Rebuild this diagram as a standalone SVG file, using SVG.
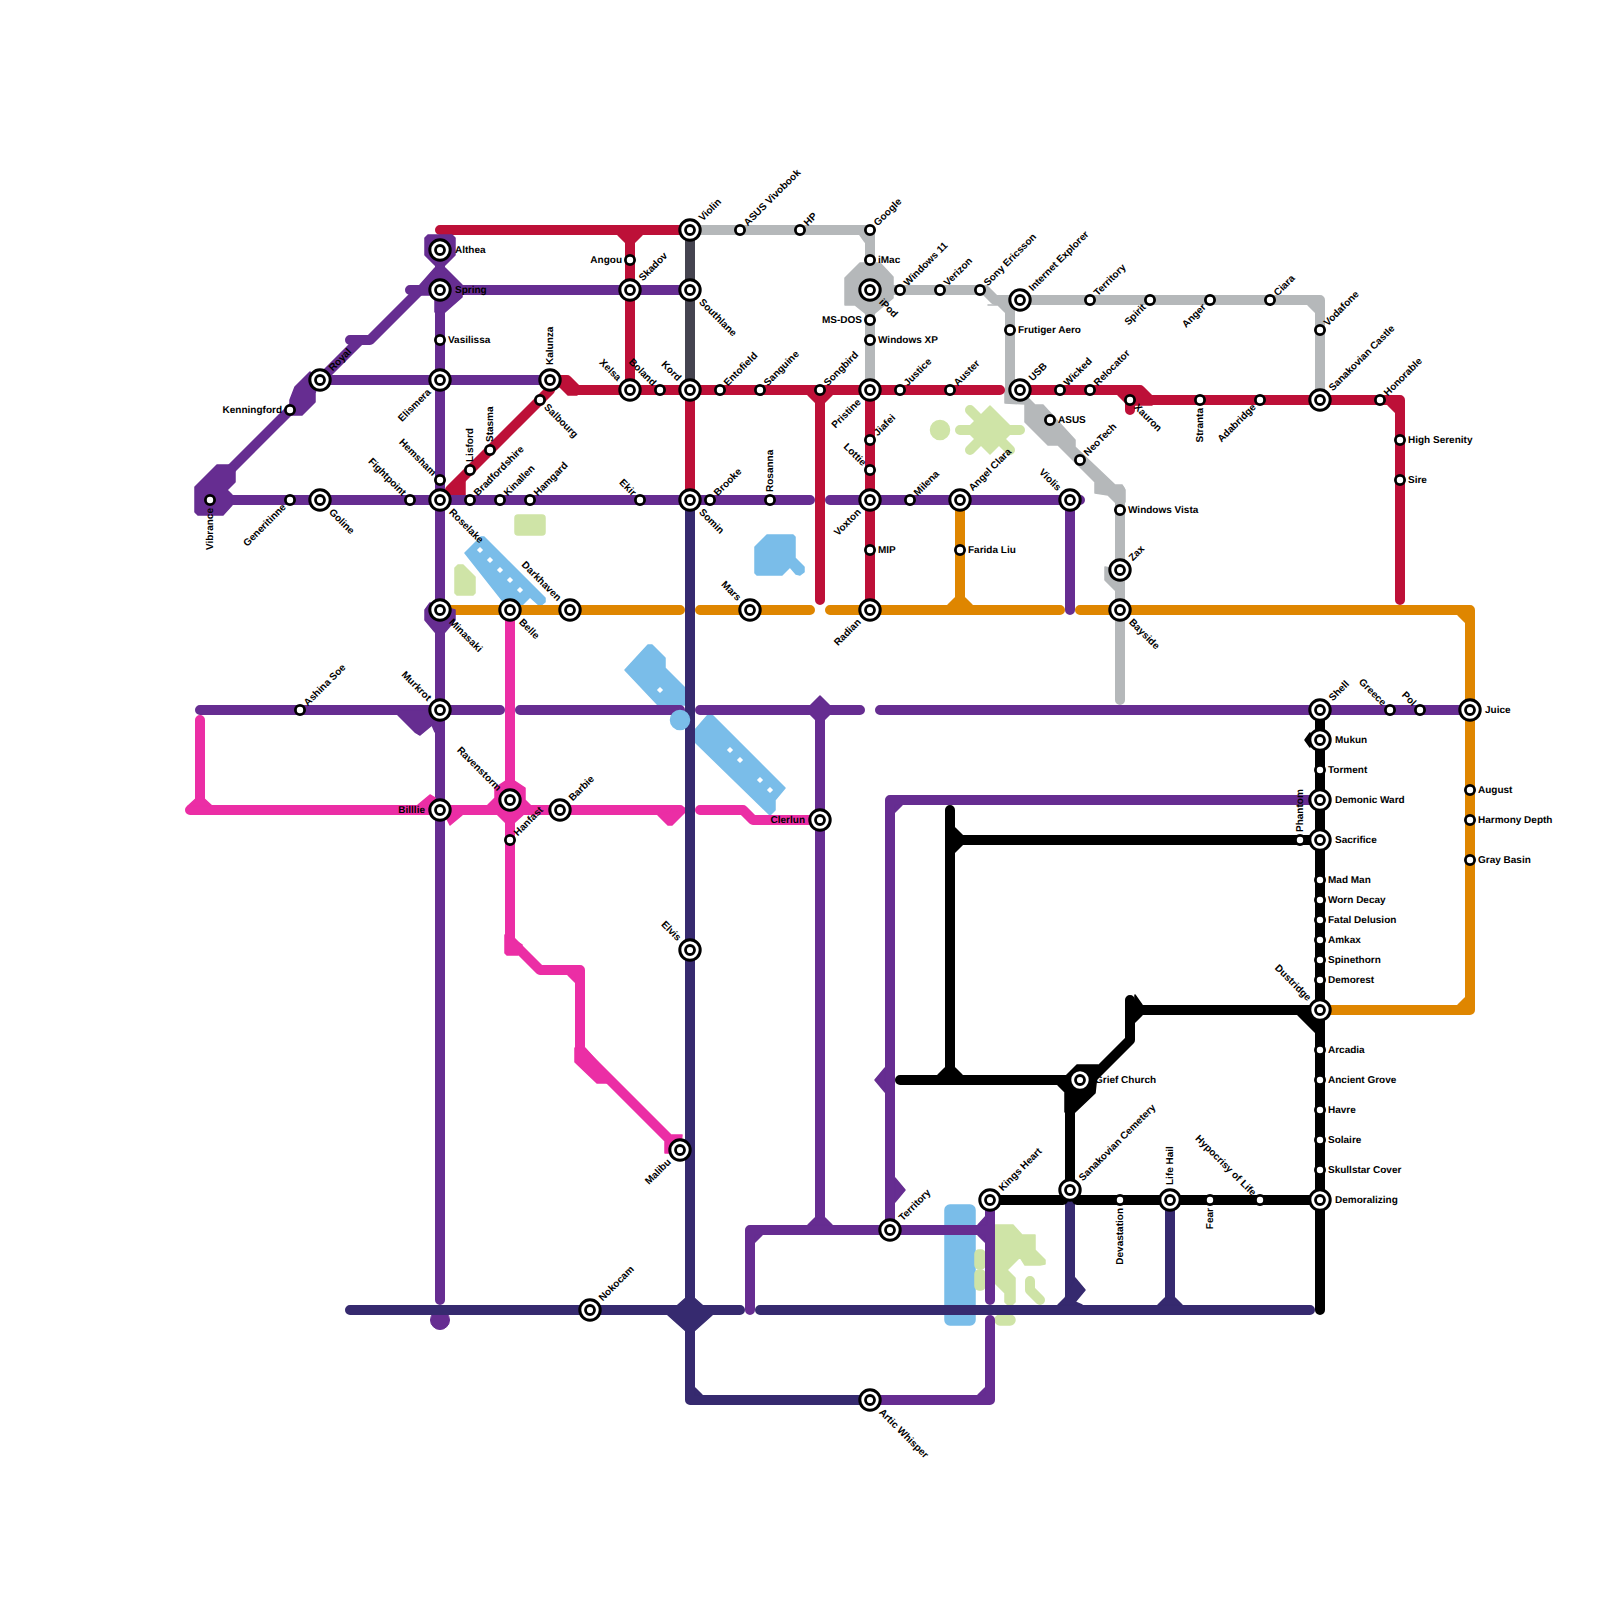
<svg xmlns="http://www.w3.org/2000/svg" width="1600" height="1600" viewBox="0 0 1600 1600">
<style>
.line path{fill:none;stroke-width:10;stroke-linecap:round;stroke-linejoin:round}
.line polygon{stroke-width:1.5;stroke-linejoin:round}
.purple{fill:#662d91;stroke:#662d91}.red{fill:#bd1038;stroke:#bd1038}.pink{fill:#eb2ea5;stroke:#eb2ea5}.navy{fill:#362a6f;stroke:#362a6f}.orange{fill:#df8600;stroke:#df8600}.gray{fill:#b5b8ba;stroke:#b5b8ba}.dark{fill:#454450;stroke:#454450}.black{fill:#000;stroke:#000}
.blue{fill:#7abde9;stroke:#7abde9;stroke-width:1.5;stroke-linejoin:round}
.green{fill:#cfe4a7;stroke:#cfe4a7;stroke-width:1.5;stroke-linejoin:round}
.gs{fill:none;stroke:#cfe4a7;stroke-width:10;stroke-linecap:round;stroke-linejoin:round}
.dot{fill:#fff}
text{font-family:"Liberation Sans",Arial,sans-serif;font-size:10px;font-weight:700;fill:#000;text-rendering:geometricPrecision}
.e{text-anchor:end}
.ring{fill:#fff;stroke:#000}
</style>
<defs>
<g id="big"><circle class="ring" r="10.2" stroke-width="3"/><circle class="ring" r="4.5" stroke-width="2.8"/></g>
<circle id="small" class="ring" r="4.6" stroke-width="2.8"/>
<rect id="d" class="dot" x="-2.2" y="-2.2" width="4.4" height="4.4" transform="rotate(45)"/>
</defs>
<g id="water">
<polygon class="blue" points="465,553 481,537 484,537 545,598 545,602 540,606 530,597 520,607 510,610"/>
<polygon class="blue" points="755,547 767,535 793,535 795,537 795,558 804,567 804,572 800,575 796,574 790,567 782,575 757,575 755,573"/>
<polygon class="blue" points="625,670 648,645 652,645 665,658 665,668 685,688 685,705 658,705"/>
<polygon class="blue" points="695,730 708,715 712,715 785,788 775,800 775,810 770,815 695,742"/>
<rect class="blue" x="945" y="1205" width="30" height="120" rx="5"/>
<use href="#d" x="480" y="550"/><use href="#d" x="490" y="560"/><use href="#d" x="500" y="570"/><use href="#d" x="510" y="580"/><use href="#d" x="520" y="590"/>
<use href="#d" x="660" y="690"/><use href="#d" x="730" y="750"/><use href="#d" x="740" y="760"/><use href="#d" x="760" y="780"/><use href="#d" x="770" y="790"/>
</g>
<g id="parks">
<rect class="green" x="515" y="515" width="30" height="20" rx="3"/>
<polygon class="green" points="455,568 458,565 463,565 475,577 475,593 473,595 457,595 455,593"/>
<circle class="green" cx="940" cy="430" r="9.5"/>
<polygon class="green" points="990,406 1014,430 990,454 966,430"/>
<path class="gs" d="M960,430H1020M970,410L990,430M970,450L990,430M1010,450L990,430"/>
<rect class="green" x="975" y="1250" width="10" height="19" rx="4"/>
<rect class="green" x="975" y="1270" width="10" height="20" rx="4"/>
<polygon class="green" points="995,1225 1013,1225 1022,1235 1035,1235 1035,1250 1045,1260 1045,1264 1040,1265 1025,1265 1020,1257 1007,1270 1015,1278 1015,1302 1012,1305 1008,1305 1005,1302 1005,1293 995,1283"/>
<path class="gs" d="M1030,1281V1290L1040,1300"/>
<rect class="green" x="995" y="1315" width="20" height="10" rx="5"/>
</g>
<g id="connectors">
<g class="line orange">
<path d="M440,610H680M700,610H810M830,610H1060M1080,610H1470V1010H1320M960,500V610"/>
<polygon points="948,605 972,605 965,598 955,598"/>
<polygon points="1458,615 1465,615 1465,622"/>
<polygon points="1458,1005 1465,1005 1465,998"/>
</g>
<g class="line gray">
<path d="M690,230H870V390M870,290H985L995,300H1320V400M1010,300V395M1120,490V700"/>
<polygon points="860,235 865,235 865,242"/>
<polygon points="845,278 860,263 880,263 893,277 893,298 875,313 865,313 855,305 845,305"/>
<polygon points="988,305 998,305 1005,312 1005,305"/>
<polygon points="1308,305 1315,305 1315,312"/>
<polygon points="1005,390 1005,403 1025,404 1025,422 1048,445 1058,445 1095,482 1095,493 1108,495 1115,502 1125,502 1125,490 1122,485 1115,485 1075,447 1075,440 1043,405 1035,405 1020,390"/>
<polygon points="1105,567 1105,580 1117,592 1120,570"/>
</g>
<path class="dark" style="fill:none;stroke-width:10" d="M690,230V390"/>
<g class="line red">
<path d="M440,230H690M630,230V390M550,380H567L577,390H1000M550,390L450,490M690,390V500M820,390V600M870,390V610"/>
<path d="M1020,390H1140L1150,400H1400V600M1120,390L1130,400V410"/>
<polygon points="447,495 465,495 465,480 447,490"/>
<polygon points="618,235 642,235 635,242 625,242"/>
<polygon points="808,395 832,395 825,402 815,402"/>
<polygon points="1118,395 1142,395 1152,405 1135,405 1130,412 1125,402"/>
<polygon points="1388,405 1395,405 1395,412"/>
<polygon points="553,385 560,387 568,395 577,395 577,385"/>
</g>
<g class="line purple">
<path d="M440,240V1300M440,290H690M550,380H320M440,500H210M440,500H810M830,500H1080M1070,500V610M200,710H500M520,710H680M700,710H860M880,710H1470"/>
<path d="M440,290H410M420,290L370,340H350M360,340L210,490"/>
<path d="M820,710V1220M890,1230V800H1320M750,1310V1230H990M990,1200V1300M990,1320V1400H870"/>
<circle cx="440" cy="1320" r="9.5"/>
<polygon points="425,238 428,235 452,235 455,238 455,255 445,265 435,265 425,255"/>
<polygon points="435,268 445,268 462,285 462,297 445,312 435,312 435,295 420,295 420,285"/>
<polygon points="195,487 217,465 235,465 235,482 227,490 232,495 232,505 223,515 198,515 195,512"/>
<polygon points="295,387 310,372 320,380 315,393 315,402 302,415 290,415 290,400"/>
<polygon points="425,610 430,603 455,610 455,620 445,632 435,632 425,620"/>
<polygon points="398,715 415,732 420,735 432,725 435,732 440,732 440,710 398,710"/>
<polygon points="820,696 834,710 820,724 806,710"/>
<polygon points="875,1080 885,1068 885,1092"/>
<polygon points="895,1178 905,1190 895,1202"/>
<polygon points="895,812 902,805 895,805"/>
<polygon points="755,1242 762,1235 755,1235"/>
<polygon points="808,1225 815,1218 825,1218 832,1225"/>
<polygon points="978,1225 987,1215 987,1225"/>
<polygon points="978,1235 985,1242 985,1235"/>
<polygon points="978,1395 985,1388 985,1395"/>
</g>
<g class="line pink">
<path d="M200,720V810M190,810H680M510,610V950M510,940L540,970H580V1050L680,1150M700,810H743L753,820H820"/>
<polygon points="188,806 200,795 212,806"/>
<polygon points="418,805 430,795 435,798 435,805"/>
<polygon points="445,815 450,825 462,815"/>
<polygon points="510,778 525,788 525,800 535,810 525,813 515,822 505,822 498,815 488,805 495,798 495,788"/>
<polygon points="658,815 668,825 672,825 685,812 685,808"/>
<polygon points="505,935 505,953 507,955 518,955 522,945"/>
<polygon points="568,975 575,975 575,982"/>
<polygon points="575,1048 575,1062 597,1083 610,1083 600,1065 585,1048"/>
<polygon points="665,1142 665,1153 680,1153 682,1135 672,1135"/>
</g>
<g class="line navy">
<path d="M690,500V1400H870M350,1310H740M760,1310H1310M1070,1200V1310M1170,1200V1310"/>
<polygon points="687,1297 693,1297 702,1305 712,1315 693,1332 687,1332 668,1315 678,1305"/>
<polygon points="695,1388 695,1395 702,1395"/>
<polygon points="1075,1278 1085,1290 1075,1302 1082,1305 1058,1305 1065,1298"/>
<polygon points="1158,1305 1165,1298 1175,1298 1182,1305"/>
</g>
<g class="line black">
<path d="M950,810V1080M950,840H1320M900,1080H1070V1190M1130,1000V1040L1090,1080M1130,1010H1320M1320,710V1310M990,1200H1063M1077,1200H1320"/>
<polygon points="955,828 967,840 955,852"/>
<polygon points="938,1075 945,1068 955,1068 962,1075"/>
<polygon points="1058,1085 1065,1092 1065,1112 1075,1112 1095,1093 1098,1065 1077,1065 1065,1077"/>
<polygon points="1135,995 1142,1005 1142,1015 1135,1022"/>
<polygon points="1298,1015 1320,1015 1320,1037 1315,1032"/>
<polygon points="1305,740 1310,733 1310,747"/>
</g>
</g>
<circle id="pond" class="blue" cx="680" cy="720" r="9.5"/>
<g id="stations">
<g id="vibrance"><use href="#small" x="210" y="500"/><text class="e" x="202" y="503" transform="rotate(-90 210 500)">Vibrance</text></g>
<g id="generitinne"><use href="#small" x="290" y="500"/><text class="e" x="282" y="503" transform="rotate(-45 290 500)">Generitinne</text></g>
<g id="goline"><use href="#big" x="320" y="500"/><text x="335" y="503" transform="rotate(45 320 500)">Goline</text></g>
<g id="fightpoint"><use href="#small" x="410" y="500"/><text class="e" x="402" y="503" transform="rotate(45 410 500)">Fightpoint</text></g>
<g id="roselake"><use href="#big" x="440" y="500"/><text x="455" y="503" transform="rotate(45 440 500)">Roselake</text></g>
<g id="hemsham"><use href="#small" x="440" y="480"/><text class="e" x="432" y="483" transform="rotate(45 440 480)">Hemsham</text></g>
<g id="lisford"><use href="#small" x="470" y="470"/><text x="478" y="473" transform="rotate(-90 470 470)">Lisford</text></g>
<g id="stasma"><use href="#small" x="490" y="450"/><text x="498" y="453" transform="rotate(-90 490 450)">Stasma</text></g>
<g id="salbourg"><use href="#small" x="540" y="400"/><text x="548" y="403" transform="rotate(45 540 400)">Salbourg</text></g>
<g id="kalunza"><use href="#big" x="550" y="380"/><text x="565" y="383" transform="rotate(-90 550 380)">Kalunza</text></g>
<g id="bradfordshire"><use href="#small" x="470" y="500"/><text x="478" y="503" transform="rotate(-45 470 500)">Bradfordshire</text></g>
<g id="kinallen"><use href="#small" x="500" y="500"/><text x="508" y="503" transform="rotate(-45 500 500)">Kinallen</text></g>
<g id="hamgard"><use href="#small" x="530" y="500"/><text x="538" y="503" transform="rotate(-45 530 500)">Hamgard</text></g>
<g id="ekir"><use href="#small" x="640" y="500"/><text class="e" x="632" y="503" transform="rotate(45 640 500)">Ekir</text></g>
<g id="somin"><use href="#big" x="690" y="500"/><text x="705" y="503" transform="rotate(45 690 500)">Somin</text></g>
<g id="brooke"><use href="#small" x="710" y="500"/><text x="718" y="503" transform="rotate(-45 710 500)">Brooke</text></g>
<g id="rosanna"><use href="#small" x="770" y="500"/><text x="778" y="503" transform="rotate(-90 770 500)">Rosanna</text></g>
<g id="voxton"><use href="#big" x="870" y="500"/><text class="e" x="855" y="503" transform="rotate(-45 870 500)">Voxton</text></g>
<g id="milena"><use href="#small" x="910" y="500"/><text x="918" y="503" transform="rotate(-45 910 500)">Milena</text></g>
<g id="angel-clara"><use href="#big" x="960" y="500"/><text x="975" y="503" transform="rotate(-45 960 500)">Angel Clara</text></g>
<g id="violis"><use href="#big" x="1070" y="500"/><text class="e" x="1055" y="503" transform="rotate(45 1070 500)">Violis</text></g>
<g id="elismera"><use href="#big" x="440" y="380"/><text class="e" x="425" y="383" transform="rotate(-45 440 380)">Elismera</text></g>
<g id="royal"><use href="#big" x="320" y="380"/><text x="335" y="383" transform="rotate(-45 320 380)">Royal</text></g>
<g id="kenningford"><use href="#small" x="290" y="410"/><text class="e" x="282" y="413">Kenningford</text></g>
<g id="vasilissa"><use href="#small" x="440" y="340"/><text x="448" y="343">Vasilissa</text></g>
<g id="spring"><use href="#big" x="440" y="290"/><text x="455" y="293">Spring</text></g>
<g id="althea"><use href="#big" x="440" y="250"/><text x="455" y="253">Althea</text></g>
<g id="violin"><use href="#big" x="690" y="230"/><text x="705" y="233" transform="rotate(-45 690 230)">Violin</text></g>
<g id="asus-vivobook"><use href="#small" x="740" y="230"/><text x="748" y="233" transform="rotate(-45 740 230)">ASUS Vivobook</text></g>
<g id="hp"><use href="#small" x="800" y="230"/><text x="808" y="233" transform="rotate(-45 800 230)">HP</text></g>
<g id="google"><use href="#small" x="870" y="230"/><text x="878" y="233" transform="rotate(-45 870 230)">Google</text></g>
<g id="imac"><use href="#small" x="870" y="260"/><text x="878" y="263">iMac</text></g>
<g id="ipod"><use href="#big" x="870" y="290"/><text x="885" y="293" transform="rotate(45 870 290)">iPod</text></g>
<g id="ms-dos"><use href="#small" x="870" y="320"/><text class="e" x="862" y="323">MS-DOS</text></g>
<g id="windows-xp"><use href="#small" x="870" y="340"/><text x="878" y="343">Windows XP</text></g>
<g id="pristine"><use href="#big" x="870" y="390"/><text class="e" x="855" y="393" transform="rotate(-45 870 390)">Pristine</text></g>
<g id="windows-11"><use href="#small" x="900" y="290"/><text x="908" y="293" transform="rotate(-45 900 290)">Windows 11</text></g>
<g id="verizon"><use href="#small" x="940" y="290"/><text x="948" y="293" transform="rotate(-45 940 290)">Verizon</text></g>
<g id="sony-ericsson"><use href="#small" x="980" y="290"/><text x="988" y="293" transform="rotate(-45 980 290)">Sony Ericsson</text></g>
<g id="internet-explorer"><use href="#big" x="1020" y="300"/><text x="1035" y="303" transform="rotate(-45 1020 300)">Internet Explorer</text></g>
<g id="frutiger-aero"><use href="#small" x="1010" y="330"/><text x="1018" y="333">Frutiger Aero</text></g>
<g id="usb"><use href="#big" x="1020" y="390"/><text x="1035" y="393" transform="rotate(-45 1020 390)">USB</text></g>
<g id="asus"><use href="#small" x="1050" y="420"/><text x="1058" y="423">ASUS</text></g>
<g id="neotech"><use href="#small" x="1080" y="460"/><text x="1088" y="463" transform="rotate(-45 1080 460)">NeoTech</text></g>
<g id="windows-vista"><use href="#small" x="1120" y="510"/><text x="1128" y="513">Windows Vista</text></g>
<g id="zax"><use href="#big" x="1120" y="570"/><text x="1135" y="573" transform="rotate(-45 1120 570)">Zax</text></g>
<g id="bayside"><use href="#big" x="1120" y="610"/><text x="1135" y="613" transform="rotate(45 1120 610)">Bayside</text></g>
<g id="territory-north"><use href="#small" x="1090" y="300"/><text x="1098" y="303" transform="rotate(-45 1090 300)">Territory</text></g>
<g id="spirit"><use href="#small" x="1150" y="300"/><text class="e" x="1142" y="303" transform="rotate(-45 1150 300)">Spirit</text></g>
<g id="anger"><use href="#small" x="1210" y="300"/><text class="e" x="1202" y="303" transform="rotate(-45 1210 300)">Anger</text></g>
<g id="ciara"><use href="#small" x="1270" y="300"/><text x="1278" y="303" transform="rotate(-45 1270 300)">Ciara</text></g>
<g id="vodafone"><use href="#small" x="1320" y="330"/><text x="1328" y="333" transform="rotate(-45 1320 330)">Vodafone</text></g>
<g id="sanakovian-castle"><use href="#big" x="1320" y="400"/><text x="1335" y="403" transform="rotate(-45 1320 400)">Sanakovian Castle</text></g>
<g id="wicked"><use href="#small" x="1060" y="390"/><text x="1068" y="393" transform="rotate(-45 1060 390)">Wicked</text></g>
<g id="relocator"><use href="#small" x="1090" y="390"/><text x="1098" y="393" transform="rotate(-45 1090 390)">Relocator</text></g>
<g id="xauron"><use href="#small" x="1130" y="400"/><text x="1138" y="403" transform="rotate(45 1130 400)">Xauron</text></g>
<g id="stranta"><use href="#small" x="1200" y="400"/><text class="e" x="1192" y="403" transform="rotate(-90 1200 400)">Stranta</text></g>
<g id="adabridge"><use href="#small" x="1260" y="400"/><text class="e" x="1252" y="403" transform="rotate(-45 1260 400)">Adabridge</text></g>
<g id="honorable"><use href="#small" x="1380" y="400"/><text x="1388" y="403" transform="rotate(-45 1380 400)">Honorable</text></g>
<g id="high-serenity"><use href="#small" x="1400" y="440"/><text x="1408" y="443">High Serenity</text></g>
<g id="sire"><use href="#small" x="1400" y="480"/><text x="1408" y="483">Sire</text></g>
<g id="xelsa"><use href="#big" x="630" y="390"/><text class="e" x="615" y="393" transform="rotate(45 630 390)">Xelsa</text></g>
<g id="boland"><use href="#small" x="660" y="390"/><text class="e" x="652" y="393" transform="rotate(45 660 390)">Boland</text></g>
<g id="kord"><use href="#big" x="690" y="390"/><text class="e" x="675" y="393" transform="rotate(45 690 390)">Kord</text></g>
<g id="entofield"><use href="#small" x="720" y="390"/><text x="728" y="393" transform="rotate(-45 720 390)">Entofield</text></g>
<g id="sanguine"><use href="#small" x="760" y="390"/><text x="768" y="393" transform="rotate(-45 760 390)">Sanguine</text></g>
<g id="songbird"><use href="#small" x="820" y="390"/><text x="828" y="393" transform="rotate(-45 820 390)">Songbird</text></g>
<g id="justice"><use href="#small" x="900" y="390"/><text x="908" y="393" transform="rotate(-45 900 390)">Justice</text></g>
<g id="auster"><use href="#small" x="950" y="390"/><text x="958" y="393" transform="rotate(-45 950 390)">Auster</text></g>
<g id="skadov"><use href="#big" x="630" y="290"/><text x="645" y="293" transform="rotate(-45 630 290)">Skadov</text></g>
<g id="angou"><use href="#small" x="630" y="260"/><text class="e" x="622" y="263">Angou</text></g>
<g id="southlane"><use href="#big" x="690" y="290"/><text x="705" y="293" transform="rotate(45 690 290)">Southlane</text></g>
<g id="jiafei"><use href="#small" x="870" y="440"/><text x="878" y="443" transform="rotate(-45 870 440)">Jiafei</text></g>
<g id="lottie"><use href="#small" x="870" y="470"/><text class="e" x="862" y="473" transform="rotate(45 870 470)">Lottie</text></g>
<g id="mip"><use href="#small" x="870" y="550"/><text x="878" y="553">MIP</text></g>
<g id="radian"><use href="#big" x="870" y="610"/><text class="e" x="855" y="613" transform="rotate(-45 870 610)">Radian</text></g>
<g id="farida-liu"><use href="#small" x="960" y="550"/><text x="968" y="553">Farida Liu</text></g>
<g id="minasaki"><use href="#big" x="440" y="610"/><text x="455" y="613" transform="rotate(45 440 610)">Minasaki</text></g>
<g id="belle"><use href="#big" x="510" y="610"/><text x="525" y="613" transform="rotate(45 510 610)">Belle</text></g>
<g id="darkhaven"><use href="#big" x="570" y="610"/><text class="e" x="555" y="613" transform="rotate(45 570 610)">Darkhaven</text></g>
<g id="mars"><use href="#big" x="750" y="610"/><text class="e" x="735" y="613" transform="rotate(45 750 610)">Mars</text></g>
<g id="ashina-soe"><use href="#small" x="300" y="710"/><text x="308" y="713" transform="rotate(-45 300 710)">Ashina Soe</text></g>
<g id="murkrot"><use href="#big" x="440" y="710"/><text class="e" x="425" y="713" transform="rotate(45 440 710)">Murkrot</text></g>
<g id="shell"><use href="#big" x="1320" y="710"/><text x="1335" y="713" transform="rotate(-45 1320 710)">Shell</text></g>
<g id="greece"><use href="#small" x="1390" y="710"/><text class="e" x="1382" y="713" transform="rotate(45 1390 710)">Greece</text></g>
<g id="pol"><use href="#small" x="1420" y="710"/><text class="e" x="1412" y="713" transform="rotate(45 1420 710)">Pol</text></g>
<g id="juice"><use href="#big" x="1470" y="710"/><text x="1485" y="713">Juice</text></g>
<g id="august"><use href="#small" x="1470" y="790"/><text x="1478" y="793">August</text></g>
<g id="harmony-depth"><use href="#small" x="1470" y="820"/><text x="1478" y="823">Harmony Depth</text></g>
<g id="gray-basin"><use href="#small" x="1470" y="860"/><text x="1478" y="863">Gray Basin</text></g>
<g id="mukun"><use href="#big" x="1320" y="740"/><text x="1335" y="743">Mukun</text></g>
<g id="torment"><use href="#small" x="1320" y="770"/><text x="1328" y="773">Torment</text></g>
<g id="demonic-ward"><use href="#big" x="1320" y="800"/><text x="1335" y="803">Demonic Ward</text></g>
<g id="phantom"><use href="#small" x="1300" y="840"/><text x="1308" y="843" transform="rotate(-90 1300 840)">Phantom</text></g>
<g id="sacrifice"><use href="#big" x="1320" y="840"/><text x="1335" y="843">Sacrifice</text></g>
<g id="mad-man"><use href="#small" x="1320" y="880"/><text x="1328" y="883">Mad Man</text></g>
<g id="worn-decay"><use href="#small" x="1320" y="900"/><text x="1328" y="903">Worn Decay</text></g>
<g id="fatal-delusion"><use href="#small" x="1320" y="920"/><text x="1328" y="923">Fatal Delusion</text></g>
<g id="amkax"><use href="#small" x="1320" y="940"/><text x="1328" y="943">Amkax</text></g>
<g id="spinethorn"><use href="#small" x="1320" y="960"/><text x="1328" y="963">Spinethorn</text></g>
<g id="demorest"><use href="#small" x="1320" y="980"/><text x="1328" y="983">Demorest</text></g>
<g id="dustridge"><use href="#big" x="1320" y="1010"/><text class="e" x="1305" y="1013" transform="rotate(45 1320 1010)">Dustridge</text></g>
<g id="arcadia"><use href="#small" x="1320" y="1050"/><text x="1328" y="1053">Arcadia</text></g>
<g id="ancient-grove"><use href="#small" x="1320" y="1080"/><text x="1328" y="1083">Ancient Grove</text></g>
<g id="havre"><use href="#small" x="1320" y="1110"/><text x="1328" y="1113">Havre</text></g>
<g id="solaire"><use href="#small" x="1320" y="1140"/><text x="1328" y="1143">Solaire</text></g>
<g id="skullstar-cover"><use href="#small" x="1320" y="1170"/><text x="1328" y="1173">Skullstar Cover</text></g>
<g id="demoralizing"><use href="#big" x="1320" y="1200"/><text x="1335" y="1203">Demoralizing</text></g>
<g id="grief-church"><use href="#big" x="1080" y="1080"/><text x="1095" y="1083">Grief Church</text></g>
<g id="sanakovian-cemetery"><use href="#big" x="1070" y="1190"/><text x="1085" y="1193" transform="rotate(-45 1070 1190)">Sanakovian Cemetery</text></g>
<g id="devastation"><use href="#small" x="1120" y="1200"/><text class="e" x="1112" y="1203" transform="rotate(-90 1120 1200)">Devastation</text></g>
<g id="life-hail"><use href="#big" x="1170" y="1200"/><text x="1185" y="1203" transform="rotate(-90 1170 1200)">Life Hail</text></g>
<g id="fear"><use href="#small" x="1210" y="1200"/><text class="e" x="1202" y="1203" transform="rotate(-90 1210 1200)">Fear</text></g>
<g id="hypocrisy-of-life"><use href="#small" x="1260" y="1200"/><text class="e" x="1252" y="1203" transform="rotate(45 1260 1200)">Hypocrisy of Life</text></g>
<g id="kings-heart"><use href="#big" x="990" y="1200"/><text x="1005" y="1203" transform="rotate(-45 990 1200)">Kings Heart</text></g>
<g id="territory-south"><use href="#big" x="890" y="1230"/><text x="905" y="1233" transform="rotate(-45 890 1230)">Territory</text></g>
<g id="artic-whisper"><use href="#big" x="870" y="1400"/><text x="885" y="1403" transform="rotate(45 870 1400)">Artic Whisper</text></g>
<g id="nokocam"><use href="#big" x="590" y="1310"/><text x="605" y="1313" transform="rotate(-45 590 1310)">Nokocam</text></g>
<g id="malibu"><use href="#big" x="680" y="1150"/><text class="e" x="665" y="1153" transform="rotate(-45 680 1150)">Malibu</text></g>
<g id="elvis"><use href="#big" x="690" y="950"/><text class="e" x="675" y="953" transform="rotate(45 690 950)">Elvis</text></g>
<g id="clerlun"><use href="#big" x="820" y="820"/><text class="e" x="805" y="823">Clerlun</text></g>
<g id="billlie"><use href="#big" x="440" y="810"/><text class="e" x="425" y="813">Billlie</text></g>
<g id="ravenstorm"><use href="#big" x="510" y="800"/><text class="e" x="495" y="803" transform="rotate(45 510 800)">Ravenstorm</text></g>
<g id="hanfast"><use href="#small" x="510" y="840"/><text x="518" y="843" transform="rotate(-45 510 840)">Hanfast</text></g>
<g id="barbie"><use href="#big" x="560" y="810"/><text x="575" y="813" transform="rotate(-45 560 810)">Barbie</text></g>
</g>
</svg>
